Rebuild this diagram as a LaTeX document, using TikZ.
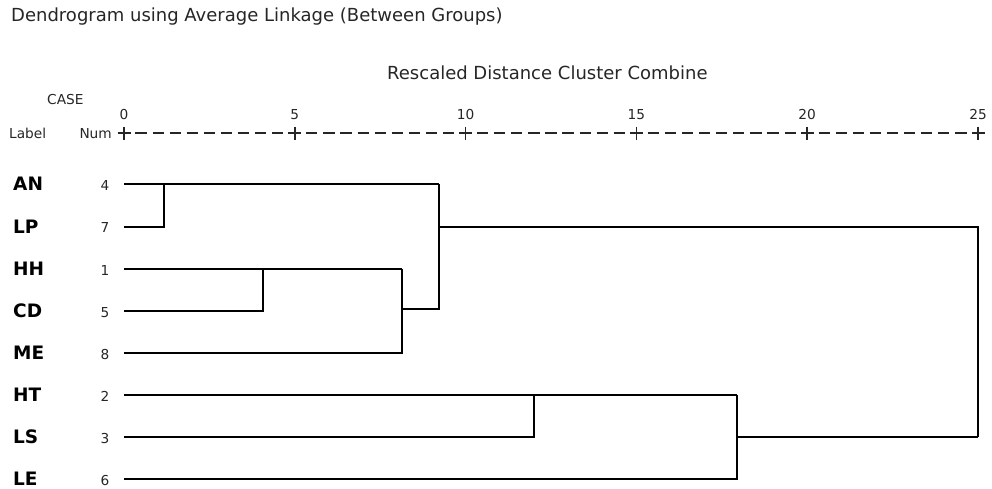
\documentclass[tikz,border=0pt]{standalone}
\usepackage{fontspec}
\setmainfont{DejaVu Sans}
\begin{document}
\begin{tikzpicture}[x=1pt,y=-1pt,
  big/.style={font=\fontsize{18}{21}\selectfont, inner sep=0pt, text=black!85},
  small/.style={font=\fontsize{13.7}{16}\selectfont, inner sep=0pt, text=black!85},
  leaflbl/.style={font=\fontsize{18.5}{21}\selectfont\bfseries, inner sep=0pt, anchor=base west},
  leafnum/.style={font=\fontsize{13.7}{16}\selectfont, inner sep=0pt, anchor=base, text=black!85},
  tree/.style={line width=2pt, line join=miter},
  axis/.style={line width=1.5pt, black!85}]
\useasboundingbox (0,0) rectangle (992,488);
% headings
\node[big, anchor=base west] (title) at (11,21.5) {Dendrogram using Average Linkage (Between Groups)};
\node[big, anchor=base west] (sub) at (387,79) {Rescaled Distance Cluster Combine};
\node[small, anchor=base west] (case) at (47,104) {CASE};
\node[small, anchor=base west] (lbl) at (9,138.3) {Label};
\node[small, anchor=base west] (num) at (79.3,138.3) {Num};
% axis
\foreach \v [count=\i from 0] in {0,5,10,15,20,25} {
  \pgfmathsetmacro{\xx}{124+170.8*\i}
  \node[small, anchor=base] (t\v) at (\xx,119) {\v};
  \draw[axis] (\xx-6.5,133) -- (\xx+6.5,133) (\xx,126.5) -- (\xx,139.5);
}
\foreach \i in {0,...,4} {
  \foreach \k in {1,...,9} {
    \pgfmathsetmacro{\cx}{124+170.8*\i+17.08*\k}
    \draw[axis] (\cx-5.6,133) -- (\cx+5.6,133);
  }
}
% leaves
\foreach \name/\n/\yy in {AN/4/184, LP/7/226.5, HH/1/269, CD/5/311, ME/8/353, HT/2/395, LS/3/437, LE/6/479} {
  \node[leaflbl] (l\name) at (13,\yy+6.5) {\name};
  \node[leafnum] (n\name) at (105,\yy+6) {\n};
  \coordinate (s\name) at (124,\yy);
}
% join coordinates
\coordinate (jA) at (164,184);
\coordinate (jB) at (262.5,269);
\coordinate (jC) at (402,269);
\coordinate (jD) at (439,184);
\coordinate (jE) at (534,395);
\coordinate (jF) at (737,395);
\coordinate (jG) at (978,226.5);
% tree
\draw[tree] (sAN) -- (jD |- sAN);
\draw[tree] (sLP) -- (jA |- sLP) -- (jA);
\draw[tree] (sHH) -- (jC);
\draw[tree] (sCD) -- (jB |- sCD) -- (jB);
\draw[tree] (sME) -- (jC |- sME) -- (jC);
\draw[tree] (402,308.5) coordinate (cC) -- (439,308.5) -- (jD);
\draw[tree] (jD |- sLP) -- (jG) -- (jG |- sLS);
\draw[tree] (sHT) -- (jF);
\draw[tree] (sLS) -- (jE |- sLS) -- (jE);
\draw[tree] (sLE) -- (jF |- sLE) -- (jF);
\draw[tree] (jF |- sLS) -- (jG |- sLS);
\end{tikzpicture}
\end{document}
